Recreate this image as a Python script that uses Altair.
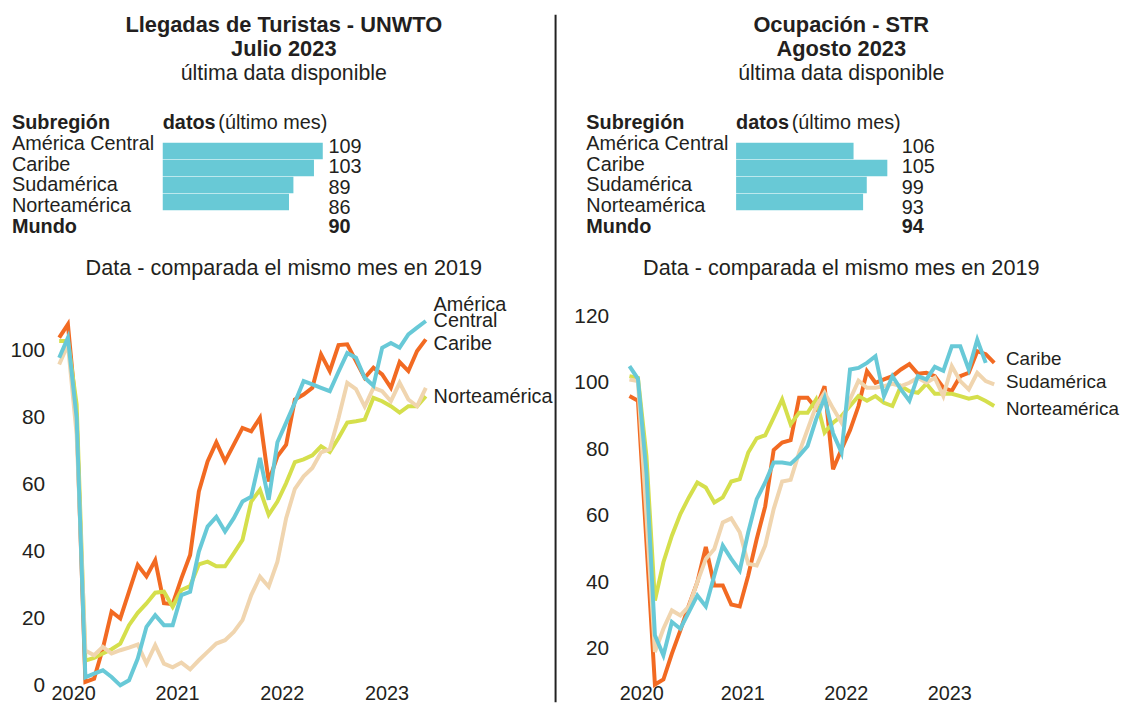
import altair as alt
import pandas as pd

FONT = "Liberation Sans"
TXT = "#231F20"

# ---------------- data ----------------
series = ["Caribe", "Norteamérica", "Sudamérica", "América Central"]
colors = ["#F26A22", "#D5DF4C", "#F0D5AF", "#68C9D7"]
bar_color = "#68C9D6"

subregions = ["América Central", "Caribe", "Sudamérica", "Norteamérica"]

# left panel: UNWTO arrivals, Jan 2020 .. Jul 2023 (index vs 2019)
l_caribe = [104, 108, 80, 1, 2, 11, 22, 20, 28, 36, 32.6, 37.4, 24.6, 24.3, 32, 39, 58, 67, 72.7, 67,
            72, 77, 76, 80, 61, 68.5, 72, 85.5, 87, 89, 99, 94, 101.8, 102, 97, 92, 95, 93, 89, 96.7,
            94, 100, 103.5]
l_norte = [103, 103, 84, 7.4, 8.2, 9.5, 10.8, 12.5, 18, 21.7, 24.5, 27.7, 28, 23.5, 28.5, 29.7, 36.2, 37,
           35.6, 35.6, 39.5, 43.5, 55, 58.5, 51, 55, 60.5, 66.8, 67.6, 68.8, 71.5, 69.8, 74, 78.6, 79,
           79.5, 86, 85, 83.5, 81.6, 83.5, 83.5, 86.5]
l_sud = [96, 102, 75, 10.4, 9, 11.5, 9.5, 10.5, 11.3, 12.2, 6.5, 12, 6.5, 5.4, 6.8, 4.8, 7.5, 10, 12.5,
         13.5, 16, 19.5, 27, 32.5, 29.5, 37, 50, 58.8, 62.5, 65, 69.7, 70.6, 80, 90.5, 88.6, 83.4, 89,
         88, 85, 90.5, 85.5, 83.5, 89]
l_central = [98, 104, 80, 2.4, 3.5, 4.5, 2.5, 0, 1.5, 8, 17.5, 21, 18, 18, 27, 28, 40, 47.5, 50.4, 46,
             50, 55, 56.4, 68, 55.5, 72.7, 78.6, 84.6, 91, 90, 89, 88, 93.8, 99.4, 98, 92, 89.6, 101,
             102.4, 101, 105, 107, 109]

# right panel: STR occupancy, Jan 2020 .. Aug 2023 (index vs 2019)
r_caribe = [96, 94.6, 52, 9.2, 10.7, 18.5, 25.5, 33, 40, 50.6, 39, 39, 33.3, 32.7, 42, 53, 62.8, 79.8,
            82, 82.7, 95.5, 95.5, 92.3, 99, 74, 80, 85.7, 93, 103.5, 100, 101, 102, 104, 105.6, 102.7,
            103, 102, 98.5, 97.6, 102, 103, 109.5, 108.6, 106]
r_norte = [102, 101.5, 78, 34.5, 46, 54, 60.5, 65.5, 70, 68.5, 64, 65.5, 70.3, 71, 79, 83.3, 84.2,
           89.5, 95, 87.5, 91, 91, 95, 85, 88, 90, 93, 96, 94.6, 96, 94, 93, 99, 97.5, 97, 99.7, 96.7,
           96.7, 96.7, 96, 95.2, 95.8, 94.5, 93]
r_sud = [101, 100.5, 60, 19, 26, 31.5, 30, 32.7, 40, 47, 50, 58, 59.2, 55, 45.5, 45, 51, 62, 70.3,
         70.8, 79, 86, 93, 97, 92.3, 88, 95, 100.6, 98.5, 98.5, 99, 99.7, 99, 100, 101.5, 100, 101.5,
         96, 105, 100.5, 98, 103, 100.5, 99.5]
r_central = [105, 101.2, 73, 24, 18, 28, 26, 31, 36, 32.7, 42, 51, 47, 43.5, 55, 65, 70, 76, 76, 75.6,
             78, 81, 89, 95.5, 84.8, 79, 104, 104.5, 106, 108, 96, 102, 98, 94.6, 102, 101, 104.8,
             103.6, 111, 111, 104, 113, 106]

# tables
l_values = [109, 103, 89, 86]
l_bars = [109, 103, 89, 86]
l_mundo = 90
r_values = [106, 105, 99, 93]
r_bars = [80, 103, 89, 86.5]
r_mundo = 94

l_year_pos = [1.6, 13.5, 25.5, 37.5]
r_year_pos = [1.4, 13.3, 25.5, 37.7]

l_end_labels = ["América", "Central", "Caribe", "Norteamérica"]
l_end_y = [113.9, 108.9, 102.0, 86.3]
r_end_labels = ["Caribe", "Sudamérica", "Norteamérica"]
r_end_y = [107.0, 100.2, 92.2]


def lines_df(vals):
    rows = []
    for s, arr in zip(series, vals):
        for i, v in enumerate(arr):
            rows.append({"s": s, "m": i, "v": v})
    return pd.DataFrame(rows)


def txt(text, x, y, size=20, weight="normal", align="left"):
    return alt.Chart(pd.DataFrame({"t": [text]})).mark_text(
        align=align, baseline="middle", fontSize=size, fontWeight=weight, font=FONT, color=TXT
    ).encode(x=alt.value(x), y=alt.value(y), text="t:N")


def panel(title1, title2, line_vals, xdom, xrange, ydom, yrange, yticks, axis_off, year_pos,
          values, bars, mundo, end_labels, end_y, end_x, end_size, width, cx, bar_x0, sep=False):
    row_scale = alt.Scale(domain=[0, 5], range=[113, 218])
    bar_scale = alt.Scale(domain=[1, 4], range=[136.3, 197.7])
    yscale = alt.Scale(domain=ydom, range=yrange)
    label_expr = ("datum.value < 12 ? '2020' : datum.value < 24 ? '2021' : "
                  "datum.value < 36 ? '2022' : '2023'")

    lines = alt.Chart(lines_df(line_vals)).mark_line(strokeWidth=4).encode(
        x=alt.X("m:Q", scale=alt.Scale(domain=xdom, range=xrange),
                axis=alt.Axis(values=year_pos, labelExpr=label_expr, grid=False, domain=False,
                              ticks=False, tickSize=0, labelPadding=0, offset=-6,
                              labelFontSize=20, labelColor=TXT, labelFont=FONT,
                              labelFlush=False, labelOverlap=False, title=None)),
        y=alt.Y("v:Q", scale=yscale,
                axis=alt.Axis(values=yticks, grid=False, domain=False, ticks=False, tickSize=0,
                              labelPadding=2, offset=axis_off, labelFontSize=21,
                              labelColor=TXT, labelFont=FONT, title=None)),
        color=alt.Color("s:N", scale=alt.Scale(domain=series, range=colors), legend=None),
    )

    ends = alt.Chart(pd.DataFrame({"t": end_labels, "y": end_y})).mark_text(
        align="left", baseline="middle", fontSize=end_size, font=FONT, color=TXT
    ).encode(x=alt.value(end_x), y=alt.Y("y:Q", scale=yscale, axis=None), text="t:N")

    tab = pd.DataFrame({"name": subregions, "row": [1, 2, 3, 4], "val": values, "bar": bars})
    names = alt.Chart(tab).mark_text(
        align="left", baseline="middle", fontSize=20, font=FONT, color=TXT
    ).encode(x=alt.value(4), y=alt.Y("row:Q", scale=row_scale, axis=None), text="name:N")
    barsl = alt.Chart(tab).mark_bar(orient="horizontal", size=16.7, color=bar_color).encode(
        x=alt.X("bar:Q", scale=alt.Scale(domain=[0, 100], range=[bar_x0, bar_x0 + 148]), axis=None),
        y=alt.Y("row:Q", scale=bar_scale, axis=None),
    )
    vals = alt.Chart(tab).mark_text(
        align="left", baseline="middle", fontSize=20, font=FONT, color=TXT, dy=1
    ).encode(x=alt.value(bar_x0 + 167), y=alt.Y("row:Q", scale=bar_scale, axis=None),
             text="val:Q")

    layers = [
        txt(title1, cx, 14, size=22, weight="bold", align="center"),
        txt(title2, cx, 39, size=22, weight="bold", align="center"),
        txt("última data disponible", cx, 64, size=21.5, align="center"),
        txt("Subregión", 4, 113, weight="bold"),
        txt("datos", bar_x0, 113, weight="bold"),
        txt("(último mes)", bar_x0 + 56, 113),
        names, barsl, vals,
        txt("Mundo", 4, 218, weight="bold"),
        txt(str(mundo), bar_x0 + 167, 218, weight="bold"),
        txt("Data - comparada el mismo mes en 2019", cx, 259, size=21.8, align="center"),
        lines, ends,
    ]
    if sep:
        layers.append(
            alt.Chart(pd.DataFrame({"a": [0]})).mark_rule(color="#222222", strokeWidth=2).encode(
                x=alt.value(552), y=alt.value(4), y2=alt.value(697))
        )
    return alt.layer(*layers).resolve_scale(x="independent", y="independent").properties(
        width=width, height=684)


left = panel("Llegadas de Turistas - UNWTO", "Julio 2023",
             [l_caribe, l_norte, l_sud, l_central], [0, 42], [51.6, 421.2], [0, 100], [680, 343],
             [0, 20, 40, 60, 80, 100], -39, l_year_pos, l_values, l_bars, l_mundo,
             l_end_labels, l_end_y, 429, 20, 556, 278, 156, sep=True)

right = panel("Ocupación - STR", "Agosto 2023",
              [r_caribe, r_norte, r_sud, r_central], [0, 43], [47.5, 415.2], [20, 120], [643, 308],
              [20, 40, 60, 80, 100, 120], -28.5, r_year_pos, r_values, r_bars, r_mundo,
              r_end_labels, r_end_y, 427, 19, 522, 261, 155)

chart = alt.hconcat(left, right, spacing=14).properties(padding=0).configure(
    font=FONT).configure_view(strokeWidth=0, stroke="transparent")

chart.save("out.html", embed_options={"renderer": "svg", "actions": False})
